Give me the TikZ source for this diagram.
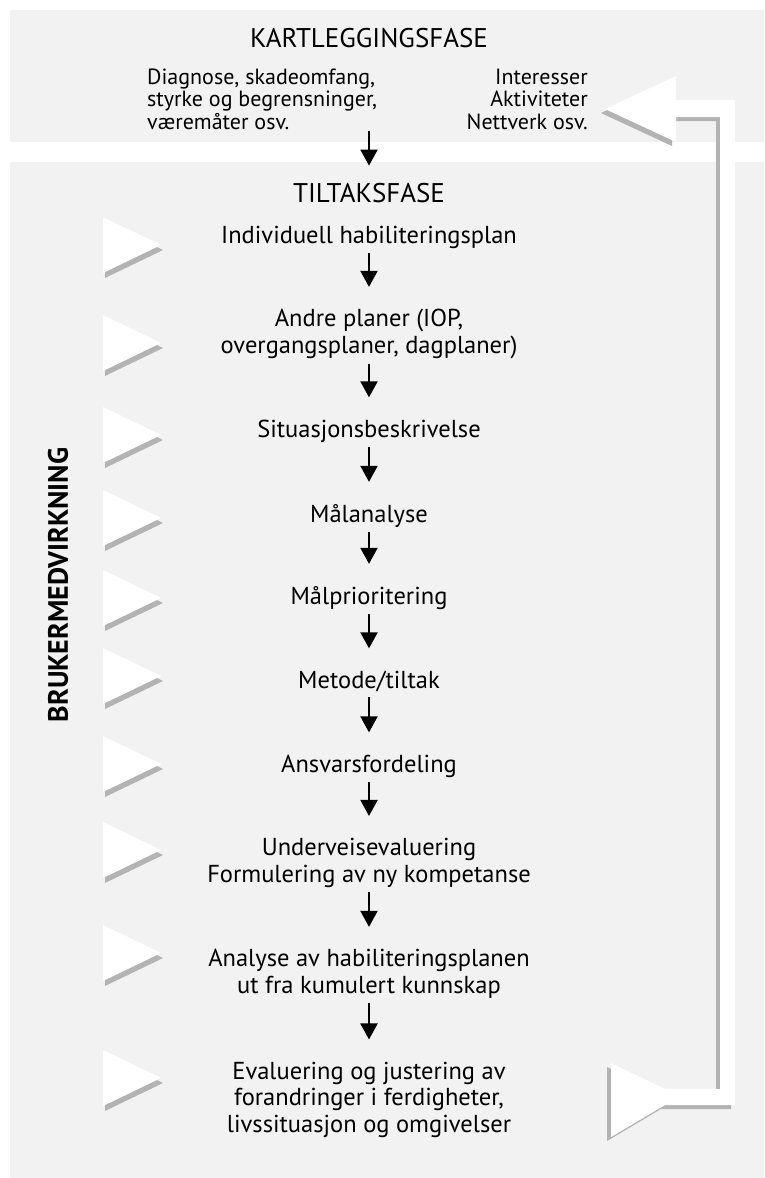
\documentclass[tikz,border=0pt]{standalone}
\usepackage{fontspec}
\setmainfont{PT Sans}
\usepackage{tikz}
\usetikzlibrary{arrows.meta}
\pgfdeclarelayer{background}
\pgfsetlayers{background,main}
\definecolor{panel}{HTML}{F2F2F2}
\definecolor{shade}{HTML}{B3B3B3}
\tikzstyle{phase}      = [font=\fontsize{27}{30}\selectfont, anchor=base, inner sep=0pt]
\tikzstyle{info}       = [font=\fontsize{22}{22.5}\selectfont, inner sep=0pt]
\tikzstyle{item}       = [font=\fontsize{24.5}{26.5}\selectfont, align=center, anchor=base, inner xsep=0pt, inner ysep=5pt]
\tikzstyle{arrow}      = [line width=2pt, -{Triangle[length=16pt,width=17pt]}, shorten >=17pt]
\tikzstyle{panelbox}   = [fill=panel]
\tikzstyle{flag}       = [fill=white]
\tikzstyle{flagshadow} = [fill=shade]

\begin{document}
\begin{tikzpicture}[x=1pt, y=-1pt]
    \useasboundingbox (0,0) rectangle (764,1178);

    \begin{pgfonlayer}{background}
      \fill[panelbox] (10,10)  rectangle (764,142);
      \fill[panelbox] (10,162) rectangle (764,1178);
    \end{pgfonlayer}

    % kartlegging (multi-line nodes sit on their last line)
    \node (kartfase)   [phase] at (369,47) {KARTLEGGINGSFASE};
    \node (kartinfo)   [info, align=left, anchor=base west] at (147,129) {Diagnose, skadeomfang,\\styrke og begrensninger,\\væremåter osv.};
    \node (kartnettverk) [info, align=right, anchor=base east] at (588,129) {Interesser\\Aktiviteter\\Nettverk osv.};

    % tiltak
    \node (tiltakfase) [phase] at (369,202) {TILTAKSFASE};
    \node (plan)       [item] at (369,243)  {Individuell habiliteringsplan};
    \node (andre)      [item] at (369,353)  {Andre planer (IOP,\\overgangsplaner, dagplaner)};
    \node (situasjon)  [item] at (369,437)  {Situasjonsbeskrivelse};
    \node (malanalyse) [item] at (369,522)  {Målanalyse};
    \node (malprio)    [item] at (369,604)  {Målprioritering};
    \node (metode)     [item] at (369,688)  {Metode/tiltak};
    \node (ansvar)     [item] at (369,772)  {Ansvarsfordeling};
    \node (underveis)  [item] at (369,882)  {Underveisevaluering\\Formulering av ny kompetanse};
    \node (analyse)    [item] at (369,993)  {Analyse av habiliteringsplanen\\ut fra kumulert kunnskap};
    \node (evaluering) [item] at (369,1132) {Evaluering og justering av\\forandringer i ferdigheter,\\livssituasjon og omgivelser};

    \node (bruker) [font=\bfseries\fontsize{28}{30}\selectfont, rotate=90] at (58,585) {BRUKERMEDVIRKNING};

    \draw [arrow] (kartfase.south) ++(0,83) -- (tiltakfase.north);
    \draw [arrow] (plan)       -- (andre);
    \draw [arrow] (andre)      -- (situasjon);
    \draw [arrow] (situasjon)  -- (malanalyse);
    \draw [arrow] (malanalyse) -- (malprio);
    \draw [arrow] (malprio)    -- (metode);
    \draw [arrow] (metode)     -- (ansvar);
    \draw [arrow] (ansvar)     -- (underveis);
    \draw [arrow] (underveis)  -- (analyse);
    \draw [arrow] (analyse)    -- (evaluering);

    % flags
    \foreach \y in {245,343,435,518,598,676,764,850,953,1078} {
      \fill[flagshadow] (105,\y-23) -- (163,\y+5) -- (105,\y+33) -- cycle;
      \fill[flag]       (103,\y-28) -- (161,\y)   -- (103,\y+28) -- cycle;
    }

    % return arrow
    \fill[flagshadow, shift={(-4,4)}] (611,1063) -- (665,1089) -- (720,1089) -- (720,117) -- (676,117) -- (676,142)
      -- (605,109) -- (676,76) -- (676,100) -- (735,100) -- (735,1105) -- (665,1105) -- (611,1137) -- cycle;
    \fill[flag] (611,1063) -- (665,1089) -- (720,1089) -- (720,117) -- (676,117) -- (676,142)
      -- (605,109) -- (676,76) -- (676,100) -- (735,100) -- (735,1105) -- (665,1105) -- (611,1137) -- cycle;

  \end{tikzpicture}
\end{document}
